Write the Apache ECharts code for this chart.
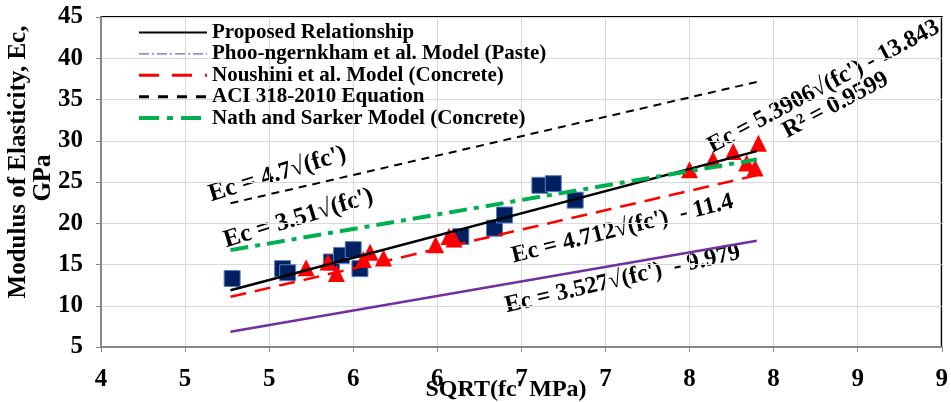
<!DOCTYPE html>
<html>
<head>
<meta charset="utf-8">
<script src="https://cdn.jsdelivr.net/npm/echarts@6/dist/echarts.min.js"></script>
<style>
  html, body { margin: 0; padding: 0; background: #fff; }
  #chart { width: 951px; height: 402px; }
</style>
</head>
<body>
<div id="chart"></div>
<script>
// 数据
const squareX = [4.78, 5.08, 5.11, 5.37, 5.43, 5.50, 5.54, 6.14, 6.34, 6.40, 6.61, 6.69, 6.82];
const squareY = [13.3, 14.5, 14.0, 15.3, 16.1, 16.8, 14.5, 18.4, 19.4, 21.0, 24.6, 24.8, 22.8];
const triangleX = [5.22, 5.35, 5.40, 5.56, 5.60, 5.68, 5.99, 6.07, 6.10, 7.50, 7.64, 7.76, 7.84, 7.89, 7.91];
const triangleY = [14.6, 15.3, 13.9, 15.6, 16.5, 15.8, 17.4, 18.4, 18.1, 26.5, 27.7, 28.7, 27.3, 26.7, 29.7];

// 模型直线端点
const lineX = [4.77, 7.90];
const proposedY = [11.87, 28.74];
const phooY = [6.84, 17.88];
const noushiniY = [11.08, 25.82];
const aciY = [22.42, 37.13];
const nathY = [16.74, 27.73];

const xTicks = { min: 4, max: 9, step: 0.5 };
const yTicks = { min: 5, max: 45, step: 5 };

const FONT = '"Liberation Serif", "Times New Roman", serif';

function pairs(xs, ys) {
  return xs.map((x, i) => [x, ys[i]]);
}

const chart = echarts.init(document.getElementById('chart'));

function lineSeries(name, ys, color, width, type) {
  return {
    name: name,
    type: 'line',
    data: pairs(lineX, ys),
    symbol: 'none',
    z: 5,
    lineStyle: { color: color, width: width, type: type },
    itemStyle: { color: color }
  };
}

// 旋转文字
function label(text, x, y, deg, size) {
  return {
    type: 'text', x: x, y: y, rotation: deg * Math.PI / 180,
    style: { text: text, font: 'bold ' + (size || 24) + 'px ' + FONT, fill: '#000', textAlign: 'left', textVerticalAlign: 'bottom' }
  };
}

const option = {
  animation: false,
  backgroundColor: '#fff',
  grid: { left: 101, right: 3, top: 17, bottom: 55, show: true, borderColor: '#000', borderWidth: 2 },
  legend: {
    orient: 'vertical',
    left: 137,
    top: 22,
    padding: 0,
    itemWidth: 68,
    itemHeight: 14,
    itemGap: 0.4,
    itemStyle: { opacity: 0 },
    textStyle: { fontFamily: FONT, fontWeight: 'bold', fontSize: 21, color: '#000', lineHeight: 21 },
    data: [
      { name: 'Proposed Relationship' },
      { name: 'Phoo-ngernkham et al. Model (Paste)', lineStyle: { width: 1, type: [10, 3, 2, 3] } },
      { name: 'Noushini et al. Model (Concrete)', lineStyle: { width: 3, type: [20, 13] } },
      { name: 'ACI 318-2010 Equation', lineStyle: { width: 3, type: [10, 9] } },
      { name: 'Nath and Sarker Model (Concrete)', lineStyle: { width: 4, type: [20, 8, 6, 8] } }
    ]
  },
  xAxis: {
    type: 'value',
    min: xTicks.min,
    max: xTicks.max,
    interval: xTicks.step,
    axisLine: { lineStyle: { color: '#868686', width: 2 } },
    axisTick: { show: true, length: 5, lineStyle: { color: '#868686' } },
    axisLabel: {
      margin: 20,
      fontFamily: FONT, fontWeight: 'bold', fontSize: 25, color: '#000',
      formatter: v => String(Math.round(v))
    },
    splitLine: { lineStyle: { color: '#d9d9d9', width: 1 } }
  },
  yAxis: {
    type: 'value',
    min: yTicks.min,
    max: yTicks.max,
    interval: yTicks.step,
    axisLine: { show: true, lineStyle: { color: '#868686', width: 2 } },
    axisTick: { show: true, length: 5, lineStyle: { color: '#868686' } },
    axisLabel: { margin: 18, fontFamily: FONT, fontWeight: 'bold', fontSize: 25, color: '#000' },
    splitLine: { lineStyle: { color: '#d9d9d9', width: 1 } }
  },
  series: [
    {
      name: 'Squares',
      type: 'scatter',
      data: pairs(squareX, squareY),
      symbol: 'rect',
      symbolSize: 16,
      z: 2,
      itemStyle: { color: '#002060', borderColor: '#5b7fc4', borderWidth: 1, opacity: 1 }
    },
    {
      name: 'Triangles',
      type: 'scatter',
      data: pairs(triangleX, triangleY),
      symbol: 'triangle',
      symbolSize: 17,
      z: 3,
      itemStyle: { color: '#ff0000', opacity: 1 }
    },
    lineSeries('Proposed Relationship', proposedY, '#000000', 2.5, 'solid'),
    lineSeries('Phoo-ngernkham et al. Model (Paste)', phooY, '#7030a0', 2.5, 'solid'),
    lineSeries('Noushini et al. Model (Concrete)', noushiniY, '#ff0000', 2.5, [16, 9]),
    lineSeries('ACI 318-2010 Equation', aciY, '#000000', 2, [8, 6]),
    lineSeries('Nath and Sarker Model (Concrete)', nathY, '#00b050', 4, [18, 7, 5, 7])
  ],
  graphic: [
    { type: 'text', x: 19, y: 162, rotation: Math.PI / 2,
      style: { text: 'Modulus of Elasticity, Ec,', font: 'bold 25px ' + FONT, fill: '#000', textAlign: 'center', textVerticalAlign: 'middle' } },
    { type: 'text', x: 44, y: 178, rotation: Math.PI / 2,
      style: { text: 'GPa', font: 'bold 25px ' + FONT, fill: '#000', textAlign: 'center', textVerticalAlign: 'middle' } },
    { type: 'text', x: 506, y: 390,
      style: { text: "SQRT(fc' MPa)", font: 'bold 24px ' + FONT, fill: '#000', textAlign: 'center', textVerticalAlign: 'middle' } },
    label("Ec = 4.7√(fc')", 213, 207, 17, 25),
    label("Ec = 3.51√(fc')", 228, 253, 17, 25),
    label("Ec = 4.712√(fc')  - 11.4", 515, 268, 14),
    label("Ec = 3.527√(fc')  - 9.979", 508, 318, 13),
    label("Ec = 5.3906√(fc') - 13.843", 715, 158, 28, 24),
    label('R² = 0.9599', 790, 143, 28, 24)
  ]
};

chart.setOption(option);
</script>
</body>
</html>
